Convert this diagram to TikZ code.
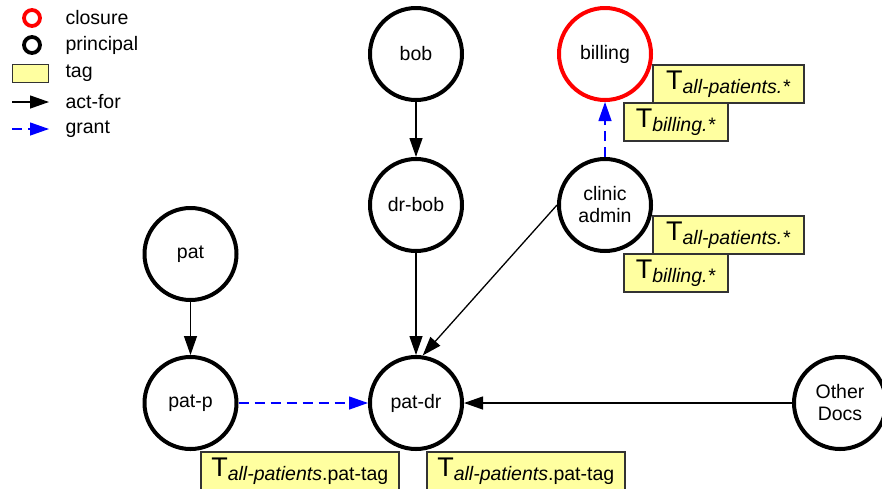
\documentclass[tikz,border=0pt]{standalone}
\usepackage{fontspec}
\setmainfont{Liberation Sans}
\usetikzlibrary{arrows.meta}
\definecolor{tagyellow}{RGB}{255,255,160}
\definecolor{tagline}{RGB}{51,51,51}
\newcommand{\tagT}[1]{{\fontsize{27}{27}\selectfont T}\raisebox{-4pt}{#1}}

\begin{document}
\begin{tikzpicture}[x=1pt,y=-1pt,font=\fontsize{19.5}{22}\selectfont,
 principal/.style={circle,draw,line width=4pt,minimum size=92pt,inner sep=0pt,align=center},
 closure/.style={principal,draw=red},
 tag/.style={draw=tagline,fill=tagyellow,line width=1.5pt,anchor=north west,minimum height=38pt,inner sep=0pt},
 actfor/.style={-{Triangle[length=19pt,width=13pt]},line width=1.3pt},
 grant/.style={actfor,blue,dash pattern=on 10pt off 6pt}]

\useasboundingbox (0,0) rectangle (882,488);
\clip (0,0) rectangle (882,488);
%
\node[circle,draw=red,line width=3.8pt,minimum size=16pt,inner sep=0pt] (lgclos) at (32,18) {};
\node[circle,draw,line width=3.8pt,minimum size=16pt,inner sep=0pt] (lgprin) at (32,45) {};
\node[draw=tagline,fill=tagyellow,line width=1.2pt,minimum width=36pt,minimum height=18pt,inner sep=0pt] (lgtag) at (30.5,73.5) {};
\coordinate (lgafA) at (12,102);
\coordinate (lgafB) at (49,102);
\coordinate (lggrA) at (12,129);
\coordinate (lggrB) at (49,129);
\draw[actfor] (lgafA) -- (lgafB);
\draw[grant] (lggrA) -- (lggrB);
\node[anchor=west] (lgclostxt) at (62,18) {closure};
\node[anchor=west] (lgprintxt) at (62,45) {principal};
\node[anchor=west] (lgtagtxt) at (62,73) {tag};
\node[anchor=west] (lgaftxt) at (62,102) {act-for};
\node[anchor=west] (lggrtxt) at (62,129) {grant};
%
\node[principal] (bob) at (416,54) {bob};
\node[closure] (billing) at (605,54) {billing};
\node[principal] (drbob) at (416,205) {dr-bob};
\node[principal] (admin) at (605,205) {clinic\\admin};
\node[principal] (pat) at (190.5,254) {pat};
\node[principal] (patp) at (190.5,403) {pat-p};
\node[principal] (patdr) at (416,403) {pat-dr};
\node[principal] (other) at (840,403) {Other\\Docs};
%
\draw[actfor] (bob) -- (drbob);
\draw[actfor] (drbob) -- (patdr);
\draw[actfor] (pat) -- (patp);
\draw[actfor] (admin.west) -- (patdr.82);
\draw[actfor] (other.west) -- (patdr.east);
\draw[grant] (patp.east) -- (patdr.west);
\draw[grant] (admin.north) -- (billing.south);
%
\node[tag,minimum width=151pt] (billtagA) at (652,64) {\tagT{\textit{all-patients.*}}};
\node[tag,minimum width=104pt] (billtagB) at (623,102) {\tagT{\textit{billing.*}}};
\node[tag,minimum width=151pt] (admintagA) at (652,215) {\tagT{\textit{all-patients.*}}};
\node[tag,minimum width=104pt] (admintagB) at (623,253) {\tagT{\textit{billing.*}}};
\node[tag,minimum width=198pt] (pattag) at (200,451) {\tagT{\textit{all-patients}.pat-tag}};
\node[tag,minimum width=198pt] (drtag) at (426,451) {\tagT{\textit{all-patients}.pat-tag}};
\end{tikzpicture}
\end{document}
